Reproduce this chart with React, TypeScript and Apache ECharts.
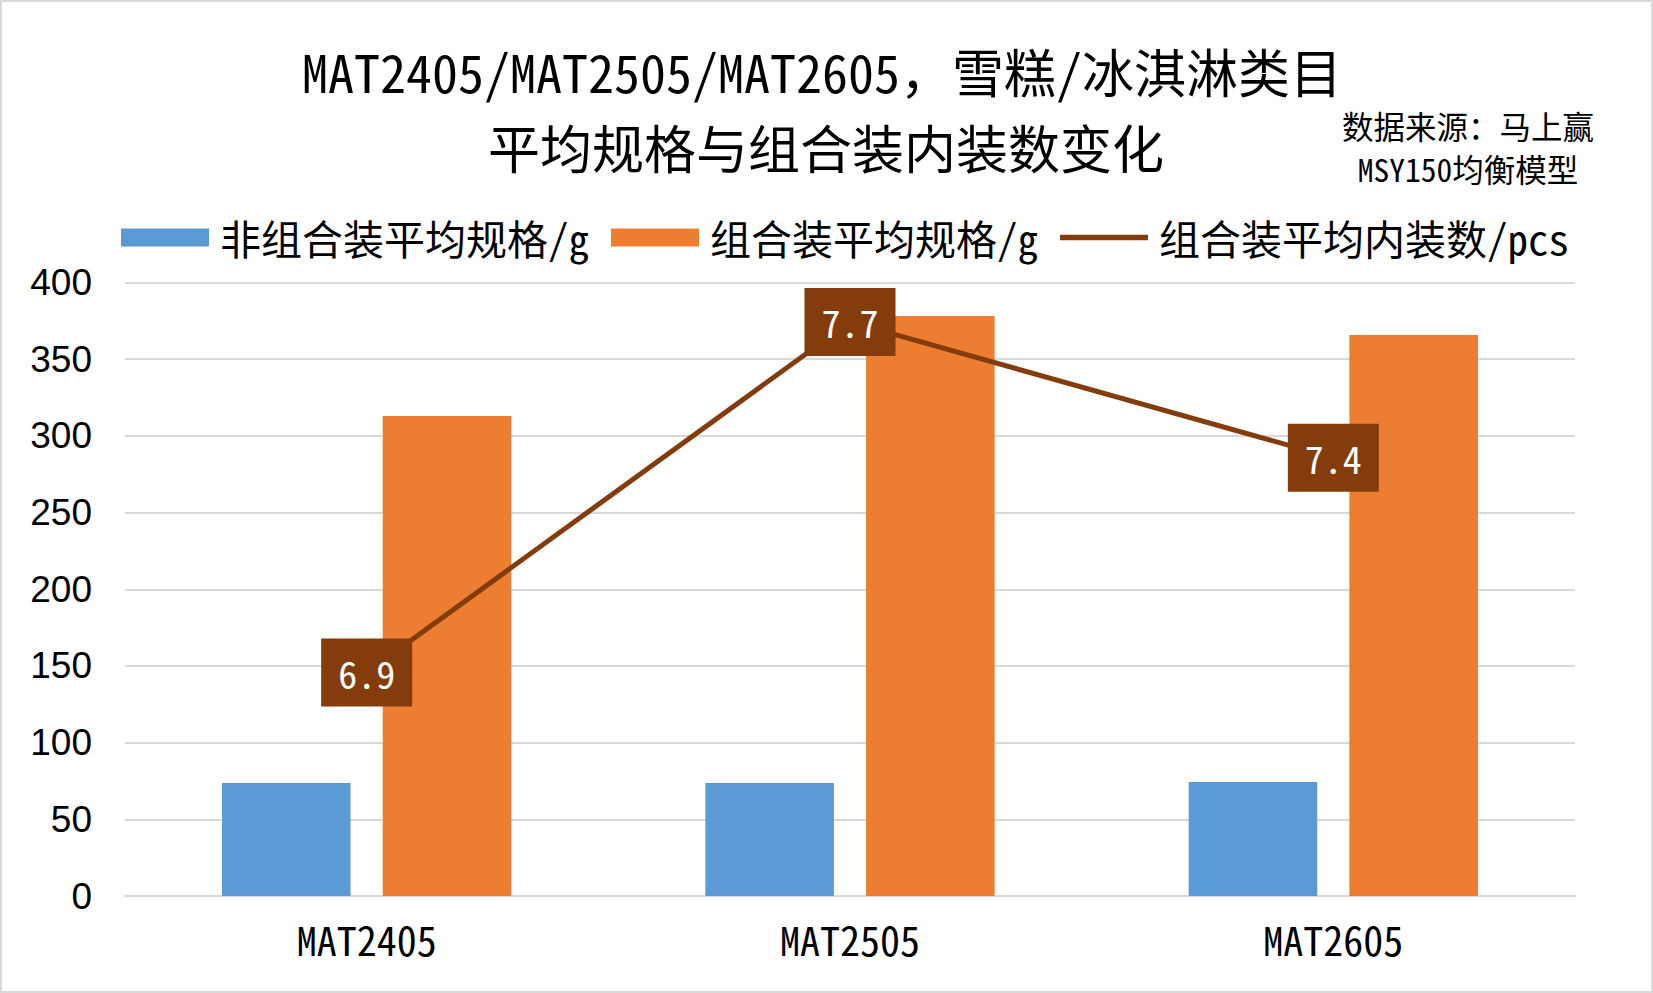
import React, { useEffect, useRef } from "react";
import * as echarts from "echarts";

const categories = ["MAT2405", "MAT2505", "MAT2605"];
const nonComboSpec = [73.6, 73.6, 74.3];
const comboSpec = [312.9, 378.1, 365.7];
const comboPcs = [6.91, 7.71, 7.4];
const seriesNames = ["非组合装平均规格/g", "组合装平均规格/g", "组合装平均内装数/pcs"];
const titleLines = ["MAT2405/MAT2505/MAT2605，雪糕/冰淇淋类目", "平均规格与组合装内装数变化"];
const sourceLines = ["数据来源：马上赢", "MSY150均衡模型"];

const CJK = '"Noto Sans Mono CJK SC", "Noto Sans CJK SC", sans-serif';
const NUM = '"Liberation Sans", Arial, sans-serif';

export default function App() {
  const ref = useRef<HTMLDivElement>(null);
  useEffect(() => {
    document.body.style.margin = "0";
    const chart = echarts.init(ref.current!, null, { renderer: "svg" });
    chart.setOption({
      animation: false,
      backgroundColor: "#fff",
      graphic: [
        {
          type: "rect",
          shape: { x: 1, y: 1, width: 1651, height: 991 },
          style: { fill: "none", stroke: "#D9D9D9", lineWidth: 2 },
          silent: true,
        },
        {
          type: "text",
          x: 822,
          y: 70,
          style: { text: titleLines[0], fontFamily: CJK, fontSize: 52, lineHeight: 52, fill: "#000", align: "center", verticalAlign: "middle" },
        },
        {
          type: "text",
          x: 826,
          y: 146,
          style: { text: titleLines[1], fontFamily: CJK, fontSize: 52, lineHeight: 52, fill: "#000", align: "center", verticalAlign: "middle" },
        },
        {
          type: "text",
          x: 1468,
          y: 125,
          style: { text: sourceLines[0], fontFamily: CJK, fontSize: 31.5, lineHeight: 33, fill: "#000", align: "center", verticalAlign: "middle" },
        },
        {
          type: "text",
          x: 1468,
          y: 168,
          style: { text: sourceLines[1], fontFamily: CJK, fontSize: 31.5, lineHeight: 33, fill: "#000", align: "center", verticalAlign: "middle" },
        },
      ],
      legend: {
        left: 116,
        top: 212,
        itemWidth: 88,
        itemHeight: 18,
        itemGap: 22,
        symbolKeepAspect: true,
        textStyle: { fontFamily: CJK, fontSize: 41, color: "#000", padding: [0, 0, 0, 6] },
        data: [
          { name: seriesNames[0], icon: "rect" },
          { name: seriesNames[1], icon: "rect" },
          { name: seriesNames[2], icon: "path://M0,0 H88 V5.5 H0 Z" },
        ],
      },
      grid: { left: 125, right: 78, top: 282.5, bottom: 97, containLabel: false },
      xAxis: {
        type: "category",
        data: categories,
        axisLine: { lineStyle: { color: "#D9D9D9", width: 2 } },
        axisTick: { show: false },
        axisLabel: { fontFamily: CJK, fontSize: 40, color: "#000", margin: 23 },
      },
      yAxis: [
        {
          type: "value",
          min: 0,
          max: 400,
          interval: 50,
          axisLine: { show: false },
          axisTick: { show: false },
          splitLine: { lineStyle: { color: "#D9D9D9", width: 2 } },
          axisLabel: { fontFamily: NUM, fontSize: 37, color: "#000", margin: 33 },
        },
        {
          type: "value",
          min: 6.4,
          max: 7.8,
          show: false,
          splitLine: { show: false },
        },
      ],
      series: [
        {
          name: seriesNames[0],
          type: "bar",
          data: nonComboSpec,
          barWidth: "26.6%",
          barGap: "25%",
          itemStyle: { color: "#5B9BD5" },
        },
        {
          name: seriesNames[1],
          type: "bar",
          data: comboSpec,
          barWidth: "26.6%",
          barGap: "25%",
          itemStyle: { color: "#ED7D31" },
        },
        {
          name: seriesNames[2],
          type: "line",
          yAxisIndex: 1,
          data: comboPcs,
          symbol: "circle",
          symbolSize: 1,
          showSymbol: true,
          itemStyle: { color: "#843C0C" },
          lineStyle: { color: "#843C0C", width: 5 },
          z: 5,
          label: {
            show: true,
            position: "inside",
            formatter: (p: any) => p.value.toFixed(1),
            fontFamily: CJK,
            fontSize: 38,
            color: "#fff",
            backgroundColor: "#843C0C",
            padding: [15, 17, 15, 17],
          },
        },
      ],
    });
    return () => chart.dispose();
  }, []);
  return <div ref={ref} style={{ width: 1653, height: 993 }} />;
}
